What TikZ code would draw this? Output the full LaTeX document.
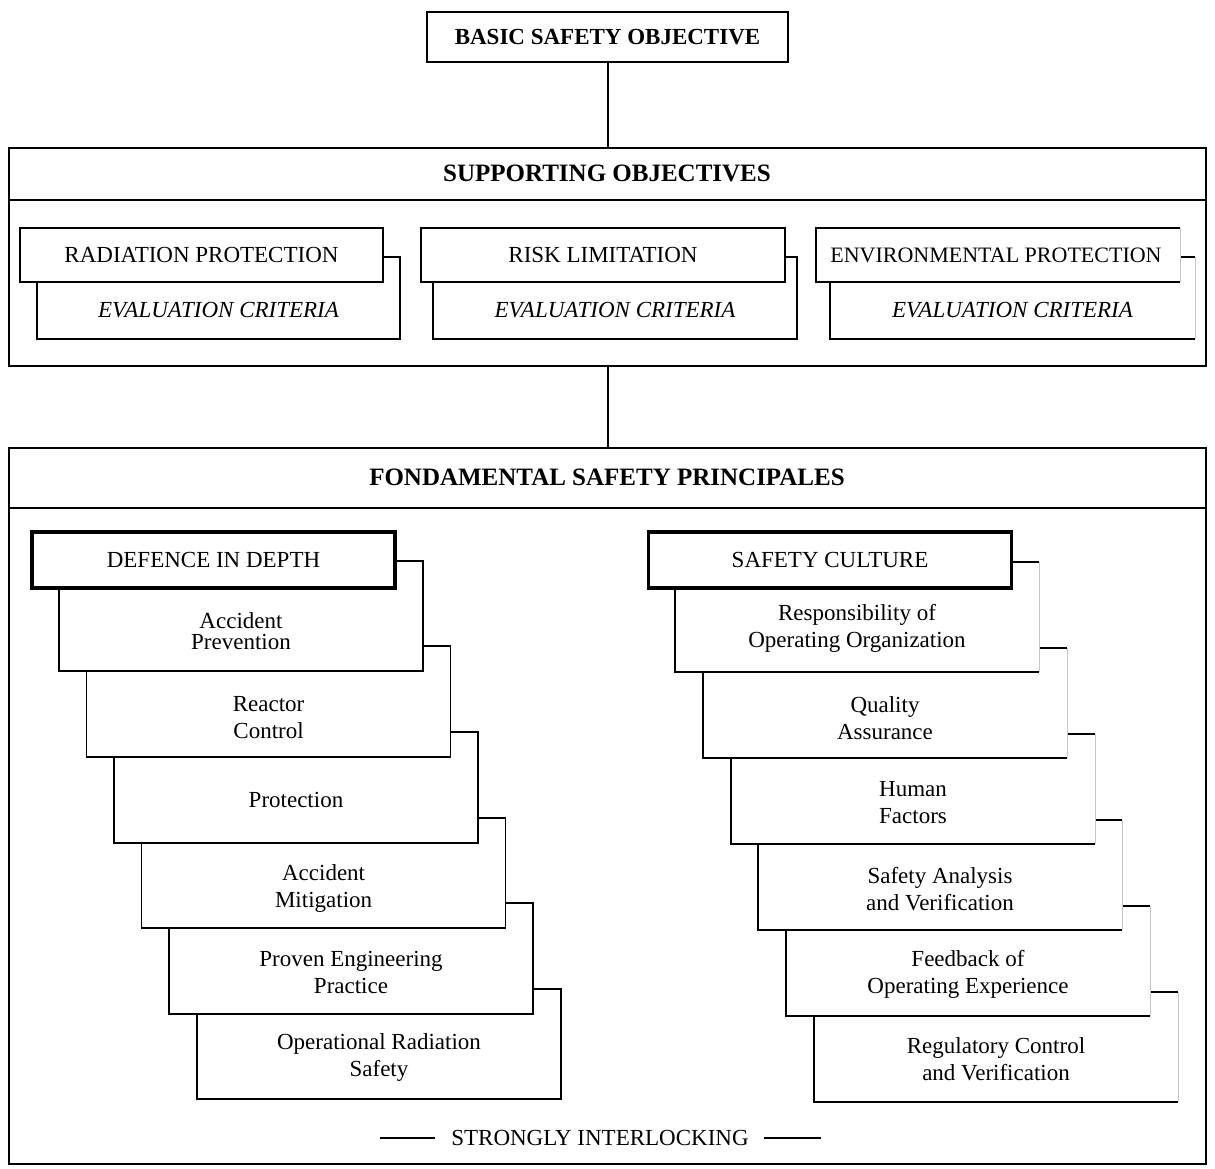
\documentclass[tikz,border=0pt]{standalone}
\usepackage{fontspec}
\setmainfont{Liberation Serif}
\tikzset{
  lbl/.style={font=\fontsize{23}{27}\selectfont, align=center, inner sep=0pt},
  ital/.style={font=\fontsize{23}{27}\selectfont\itshape, align=center, inner sep=0pt},
  ttl/.style={font=\fontsize{25}{30}\selectfont\bfseries, inner sep=0pt},
  thinline/.style={line width=1.4pt},
  frameline/.style={draw, line width=2pt},
  faded/.style={draw=black!22, line width=1pt},
  layer/.style={fill=white, draw, line width=1.4pt},
  headbox/.style={draw, fill=white, line width=3.5pt, minimum width=363pt, minimum height=56pt,
    inner sep=0pt, font=\fontsize{23}{27}\selectfont},
}
\newcommand\lay[4]{\filldraw[layer] (#1,#2) rectangle (#3,#4);}
\newcommand\layF[4]{\fill[white] (#1,#2) rectangle (#3,#4);
  \draw[faded] (#3,#2) -- (#3,#4);
  \draw[thinline] (#3,#2) -- (#1,#2) -- (#1,#4) -- (#3,#4);}
\begin{document}
\begin{tikzpicture}[x=1pt,y=-1pt]
\useasboundingbox (0,0) rectangle (1215,1169);
\fill[white] (0,0) rectangle (1215,1169);

% top box
\node[frameline, minimum width=361pt, minimum height=50pt, inner sep=0pt,
  font=\fontsize{23}{27}\selectfont\bfseries] (bso) at (607.5,37) {BASIC SAFETY OBJECTIVE};

% supporting objectives frame
\node[frameline, minimum width=1197pt, minimum height=218pt, anchor=north west, inner sep=0pt] (sup) at (8,147) {};
\draw[thinline] (8,200) -- (1205,200);
\node[ttl] (supT) at (607,173) {SUPPORTING OBJECTIVES};

% fundamental frame
\node[frameline, minimum width=1197pt, minimum height=716pt, anchor=north west, inner sep=0pt] (fund) at (8,447) {};
\draw[thinline] (8,508) -- (1205,508);
\node[ttl] (fundT) at (607,477) {FONDAMENTAL SAFETY PRINCIPALES};

% connectors
\draw[frameline] (bso.south) -- (bso.south |- sup.north);
\draw[frameline] (bso.south |- sup.south) -- (bso.south |- fund.north);

% supporting objective boxes
\lay{37}{257}{400}{339}
\lay{20}{228}{383}{282}
\lay{433}{257}{797}{339}
\lay{421}{228}{785}{282}
\layF{830}{257}{1195}{339}
\layF{816}{228}{1180}{282}
\node[lbl] (rp) at (201.5,255) {RADIATION PROTECTION};
\node[ital] (rpe) at (218.5,310.5) {EVALUATION CRITERIA};
\node[lbl] (rl) at (603,255) {RISK LIMITATION};
\node[ital] (rle) at (615,310.5) {EVALUATION CRITERIA};
\node[lbl, font=\fontsize{22}{27}\selectfont] (ep) at (996,255) {ENVIRONMENTAL PROTECTION};
\node[ital] (epe) at (1012.5,310.5) {EVALUATION CRITERIA};

% defence in depth stack
\lay{197}{989}{561}{1099}
\lay{169}{903}{533}{1014}
\lay{141.6}{818}{505.6}{928}
\lay{114}{732}{478}{843}
\lay{86.6}{646}{450.6}{757}
\lay{59}{561}{423}{671}
\node[headbox] (did) at (213.5,560) {DEFENCE IN DEPTH};
\node[lbl, font=\fontsize{23}{21}\selectfont] (a1) at (241,631) {Accident\\Prevention};
\node[lbl] (a2) at (268.6,718) {Reactor\\Control};
\node[lbl] (a3) at (296,800) {Protection};
\node[lbl] (a4) at (323.6,888) {Accident\\Mitigation};
\node[lbl] (a5) at (351,972) {Proven Engineering\\Practice};
\node[lbl] (a6) at (379,1057) {Operational Radiation\\Safety};

% safety culture stack
\layF{814}{992}{1178}{1102}
\layF{786}{906}{1150}{1016}
\layF{758}{820}{1122}{930}
\layF{731}{734}{1095}{844}
\layF{703}{648}{1067}{758}
\layF{675}{562}{1039}{672}
\node[headbox] (sc) at (830,560) {SAFETY CULTURE};
\node[lbl] (b1) at (857,628.5) {Responsibility of\\Operating Organization};
\node[lbl] (b2) at (885,718) {Quality\\Assurance};
\node[lbl] (b3) at (913,803) {Human\\Factors};
\node[lbl] (b4) at (940,889) {Safety Analysis\\and Verification};
\node[lbl] (b5) at (968,974) {Feedback of\\Operating Experience};
\node[lbl] (b6) at (996,1059) {Regulatory Control\\and Verification};

% bottom label
\node[lbl] (si) at (600,1138) {STRONGLY INTERLOCKING};
\coordinate (siL) at ([xshift=-16pt]si.west);
\coordinate (siR) at ([xshift=15pt]si.east);
\draw[thinline] (siL) -- ++(-55,0);
\draw[thinline] (siR) -- ++(57,0);
\end{tikzpicture}
\end{document}
